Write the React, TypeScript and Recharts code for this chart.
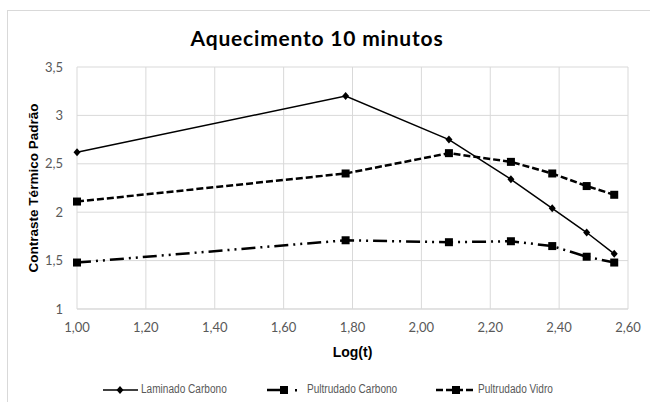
import { CartesianGrid, Line, LineChart, XAxis, YAxis } from "recharts";

// log10 of heating time (s) and the standard thermal contrast per sample
const logT = [1.0, 1.78, 2.08, 2.26, 2.38, 2.48, 2.56];
const laminadoCarbono = [2.62, 3.2, 2.75, 2.34, 2.04, 1.79, 1.57];
const pultrudadoCarbono = [1.48, 1.71, 1.69, 1.7, 1.65, 1.54, 1.48];
const pultrudadoVidro = [2.11, 2.4, 2.61, 2.52, 2.4, 2.27, 2.18];

const xTicks = [1, 1.2, 1.4, 1.6, 1.8, 2, 2.2, 2.4, 2.6];
const yTicks = [1, 1.5, 2, 2.5, 3, 3.5];

const seriesNames = ["Laminado Carbono", "Pultrudado Carbono", "Pultrudado Vidro"];

const data = logT.map((x, i) => ({
  x,
  lam: laminadoCarbono[i],
  pc: pultrudadoCarbono[i],
  pv: pultrudadoVidro[i],
}));

const GRID = "#d9d9d9";
const TICK = "#595959";
const DASH_DOT = "14 5 2 5 2 5";
const DASHED = "7 3";

function Diamond({ cx, cy }: { cx?: number; cy?: number }) {
  if (cx == null || cy == null) return null;
  return <path d={`M${cx},${cy - 4}L${cx + 3.5},${cy}L${cx},${cy + 4}L${cx - 3.5},${cy}Z`} fill="#000" />;
}

function Square({ cx, cy }: { cx?: number; cy?: number }) {
  if (cx == null || cy == null) return null;
  return <rect x={cx - 4} y={cy - 4} width={8} height={8} fill="#000" />;
}

const fmt = (digits: number) => (v: number) => v.toFixed(digits).replace(".", ",");
const fmtY = (v: number) => (Number.isInteger(v) ? String(v) : fmt(1)(v));

// legend drawn as plain html under the chart, like Excel's
function LegendBox() {
  const text = {
    position: "absolute" as const,
    top: -1,
    fontFamily: "'Liberation Sans', Arial, sans-serif",
    fontSize: 12,
    lineHeight: "14px",
    color: TICK,
    whiteSpace: "nowrap" as const,
    transform: "scaleX(0.84)",
    transformOrigin: "left center",
  };
  const icon = { position: "absolute" as const, top: 2 };
  return (
    <div style={{ position: "absolute", left: 0, top: 383, width: 650, height: 14 }}>
      <svg style={{ ...icon, left: 103 }} width={35} height={10}>
        <line x1={0} y1={5} x2={35} y2={5} stroke="#000" strokeWidth={1.5} />
        <path d="M17,1L20.5,5L17,9L13.5,5Z" fill="#000" />
      </svg>
      <span style={{ ...text, left: 141 }}>{seriesNames[0]}</span>
      <svg style={{ ...icon, left: 267 }} width={32} height={10}>
        <line x1={0} y1={5} x2={16} y2={5} stroke="#000" strokeWidth={2.5} />
        <rect x={13} y={1} width={8} height={8} fill="#000" />
        <rect x={28} y={4} width={2} height={2.5} fill="#000" />
      </svg>
      <span style={{ ...text, left: 307 }}>{seriesNames[1]}</span>
      <svg style={{ ...icon, left: 436 }} width={40} height={10}>
        <line x1={0} y1={5} x2={40} y2={5} stroke="#000" strokeWidth={2.5} strokeDasharray={DASHED} />
        <rect x={16} y={1} width={8} height={8} fill="#000" />
      </svg>
      <span style={{ ...text, left: 478 }}>{seriesNames[2]}</span>
    </div>
  );
}

export default function App() {
  return (
    <div
      style={{
        position: "fixed",
        left: 0,
        top: 0,
        width: 650,
        height: 402,
        background: "#fff",
        overflow: "hidden",
      }}
    >
      <div
        style={{
          position: "absolute",
          left: 7,
          top: 10,
          width: 700,
          height: 500,
          borderTop: "1px solid #d9d9d9",
          borderLeft: "1px solid #d9d9d9",
        }}
      />
      <div
        style={{
          position: "absolute",
          left: 0,
          width: 634,
          top: 25,
          textAlign: "center",
          fontFamily: "Lato, 'Open Sans', sans-serif",
          fontWeight: 700,
          fontSize: 21,
          letterSpacing: 0.8,
          color: "#000",
          lineHeight: "26px",
        }}
      >
        Aquecimento 10 minutos
      </div>
      <div style={{ position: "absolute", left: 0, top: 0 }}>
        <LineChart width={650} height={402} data={data} margin={{ top: 67, right: 22, bottom: 63, left: 0 }}>
          <CartesianGrid stroke={GRID} strokeWidth={1} />
          <XAxis
            dataKey="x"
            type="number"
            domain={[1, 2.6]}
            ticks={xTicks}
            tickFormatter={fmt(2)}
            axisLine={{ stroke: GRID }}
            tickLine={false}
            tickSize={0}
            tickMargin={14}
            height={30}
            tick={{ fontFamily: "Lato, sans-serif", fontSize: 13, fill: TICK }}
            label={{
              content: ({ viewBox }: any) => (
                <text
                  x={viewBox.x + viewBox.width / 2}
                  y={viewBox.y + 43}
                  textAnchor="middle"
                  dominantBaseline="central"
                  fontFamily="'Liberation Sans', Arial, sans-serif"
                  fontWeight={700}
                  fontSize={14}
                  fill="#000"
                >
                  Log(t)
                </text>
              ),
            }}
          />
          <YAxis
            type="number"
            domain={[1, 3.5]}
            ticks={yTicks}
            tickFormatter={fmtY}
            axisLine={false}
            tickLine={false}
            tickSize={0}
            tickMargin={14}
            width={77}
            tick={{ fontFamily: "Lato, sans-serif", fontSize: 13, fill: TICK }}
            label={{
              content: ({ viewBox }: any) => {
                const cx = viewBox.x + 33;
                const cy = viewBox.y + viewBox.height / 2;
                return (
                  <text
                    x={cx}
                    y={cy}
                    transform={`rotate(-90, ${cx}, ${cy})`}
                    textAnchor="middle"
                    dominantBaseline="central"
                    fontFamily="'Liberation Sans', Arial, sans-serif"
                    fontWeight={700}
                    fontSize={13.5}
                    fill="#000"
                  >
                    Contraste Térmico Padrão
                  </text>
                );
              },
            }}
          />
          <Line
            dataKey="lam"
            name={seriesNames[0]}
            stroke="#000"
            strokeWidth={1.5}
            dot={(p: any) => <Diamond key={`l${p.index}`} cx={p.cx} cy={p.cy} />}
            activeDot={false}
            isAnimationActive={false}
          />
          <Line
            dataKey="pc"
            name={seriesNames[1]}
            stroke="#000"
            strokeWidth={2.5}
            strokeDasharray={DASH_DOT}
            dot={(p: any) => <Square key={`c${p.index}`} cx={p.cx} cy={p.cy} />}
            activeDot={false}
            isAnimationActive={false}
          />
          <Line
            dataKey="pv"
            name={seriesNames[2]}
            stroke="#000"
            strokeWidth={2.5}
            strokeDasharray={DASHED}
            dot={(p: any) => <Square key={`v${p.index}`} cx={p.cx} cy={p.cy} />}
            activeDot={false}
            isAnimationActive={false}
          />
        </LineChart>
      </div>
      <LegendBox />
    </div>
  );
}
